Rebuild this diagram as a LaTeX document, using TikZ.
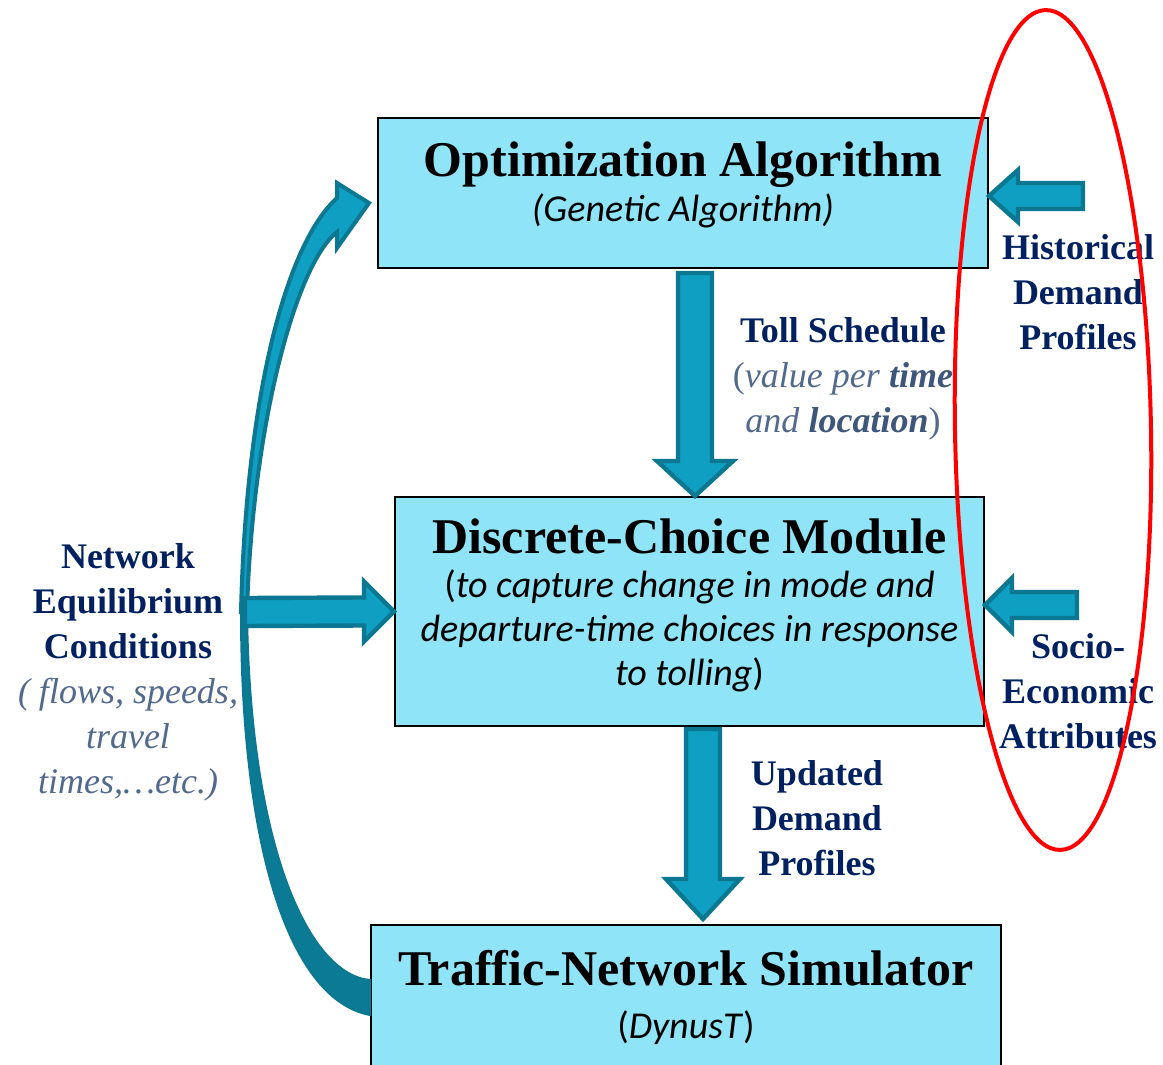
\documentclass[tikz,border=0pt]{standalone}
\usepackage{fontspec}
\setmainfont{Liberation Serif}
\newfontfamily\calibfont{Carlito}
\usetikzlibrary{calc}
\definecolor{boxcyan}{HTML}{8FE4F7}
\definecolor{arrowfill}{HTML}{0F9FC2}
\definecolor{arrowline}{HTML}{0B7791}
\definecolor{twistdark}{HTML}{0B7B95}
\definecolor{navy}{HTML}{002060}
\definecolor{grayblue}{HTML}{52698E}
\definecolor{grayblueb}{HTML}{3E5679}
\newcommand{\boxtitlefont}{\fontsize{25}{30}\selectfont\rmfamily\bfseries}
\newcommand{\boxsubfont}{\fontsize{19}{22}\selectfont\calibfont}

\begin{document}
\begin{tikzpicture}[
    x=0.5pt, y=-0.5pt,
    box/.style={rectangle, draw=black, line width=1pt, fill=boxcyan, align=center, inner sep=0pt, font=\boxsubfont},
    blockarrow/.style={draw=arrowline, fill=arrowfill, line width=2.2pt, line join=miter},
    lbl/.style={align=center, inner sep=0pt, font=\fontsize{18}{22.5}\selectfont},
    ring/.style={draw=red, line width=2pt}
]
\useasboundingbox (0,0) rectangle (1163,1065);

% Boxes
\node[box, minimum width=305pt, minimum height=75pt, text depth=11pt] (opt) at (683,193)
    {{\boxtitlefont Optimization Algorithm}\\[0.5pt]{\itshape (Genetic Algorithm)}};
\node[box, minimum width=294.5pt, minimum height=114.5pt, text depth=9.5pt] (dcm) at (689.5,611.5)
    {{\boxtitlefont Discrete-Choice Module}\\
     (\textit{to capture change in mode and}\\
     \textit{departure-time choices in response}\\
     \textit{to tolling})};
\node[box, minimum width=315pt, minimum height=73pt, text depth=4pt] (tns) at (686,998)
    {{\boxtitlefont Traffic-Network Simulator}\\[4.5pt](\textit{DynusT})};

% Labels
\node[lbl] (toll) at (843,379)
    {{\color{navy}\bfseries Toll Schedule}\\
     {\color{grayblue}(\textit{value per} \textcolor{grayblueb}{\bfseries\itshape time}}\\
     {\color{grayblue}\textit{and} \textcolor{grayblueb}{\bfseries\itshape location})}};
\node[lbl] (hist) at (1078,292)
    {{\color{navy}\bfseries Historical}\\{\color{navy}\bfseries Demand}\\{\color{navy}\bfseries Profiles}};
\node[lbl] (upd) at (817,818)
    {{\color{navy}\bfseries Updated}\\{\color{navy}\bfseries Demand}\\{\color{navy}\bfseries Profiles}};
\node[lbl] (socio) at (1078,691)
    {{\color{navy}\bfseries Socio-}\\{\color{navy}\bfseries Economic}\\{\color{navy}\bfseries Attributes}};
\node[lbl] (neq) at (128,672)
    {{\color{navy}\bfseries Network}\\{\color{navy}\bfseries Equilibrium}\\{\color{navy}\bfseries Conditions}\\
     {\color{grayblue}\itshape ( flows, speeds,}\\{\color{grayblue}\itshape travel}\\{\color{grayblue}\itshape times,…etc.)}};

% Curved feedback arrow (twisted ribbon)
\coordinate (fbTail) at (tns.west);
\coordinate (fbTip) at (369,203);
\draw[draw=arrowline, fill=twistdark, line width=1pt]
    (241,612) .. controls (241,850) and (290,1000) .. ($(fbTail)+(0,17)$)
    -- ($(fbTail)+(0,-18)$) .. controls (310,975) and (250,850) .. (247,612) -- cycle;
\draw[blockarrow, line width=2pt]
    (fbTip) -- (337,183) -- (337,198) .. controls (285,245) and (246,400) .. (241,612)
    -- (247,612) .. controls (252,430) and (295,265) .. (337,232) -- (337,248) -- cycle;

% Straight block arrows
\coordinate (tollTail) at ($(opt.south)+(12,4)$);
\coordinate (tollTip) at (tollTail |- dcm.north);
\draw[blockarrow] ($(tollTail)+(-17,0)$) -- ($(tollTip)+(-17,-35)$) -- ($(tollTip)+(-38,-35)$) -- (tollTip)
    -- ($(tollTip)+(38,-35)$) -- ($(tollTip)+(17,-35)$) -- ($(tollTail)+(17,0)$) -- cycle;

\coordinate (updTail) at ($(dcm.south)+(13.5,2)$);
\coordinate (updTip) at ($(updTail |- tns.north)+(0,-5)$);
\draw[blockarrow] ($(updTail)+(-17,0)$) -- ($(updTip)+(-17,-40)$) -- ($(updTip)+(-37,-40)$) -- (updTip)
    -- ($(updTip)+(37,-40)$) -- ($(updTip)+(17,-40)$) -- ($(updTail)+(17,0)$) -- cycle;

\coordinate (neqTail) at (245,612);
\coordinate (neqTip) at (dcm.west);
\draw[blockarrow] ($(neqTail)+(0,-14)$) -- ($(neqTip)+(-30,-14)$) -- ($(neqTip)+(-30,-30)$) -- (neqTip)
    -- ($(neqTip)+(-30,30)$) -- ($(neqTip)+(-30,14)$) -- ($(neqTail)+(0,14)$) -- cycle;

\coordinate (histTail) at (1083,196);
\coordinate (histTip) at (histTail -| opt.east);
\draw[blockarrow] ($(histTail)+(0,-13)$) -- ($(histTip)+(29,-13)$) -- ($(histTip)+(29,-26)$) -- (histTip)
    -- ($(histTip)+(29,26)$) -- ($(histTip)+(29,13)$) -- ($(histTail)+(0,13)$) -- cycle;

\coordinate (socioTail) at (1077,605);
\coordinate (socioTip) at (socioTail -| dcm.east);
\draw[blockarrow] ($(socioTail)+(0,-13)$) -- ($(socioTip)+(27,-13)$) -- ($(socioTip)+(27,-27)$) -- (socioTip)
    -- ($(socioTip)+(27,27)$) -- ($(socioTip)+(27,13)$) -- ($(socioTail)+(0,13)$) -- cycle;

% Highlight ring
\draw[ring] (1053,430) ellipse [x radius=49pt, y radius=210pt, rotate=1];

\end{tikzpicture}
\end{document}
